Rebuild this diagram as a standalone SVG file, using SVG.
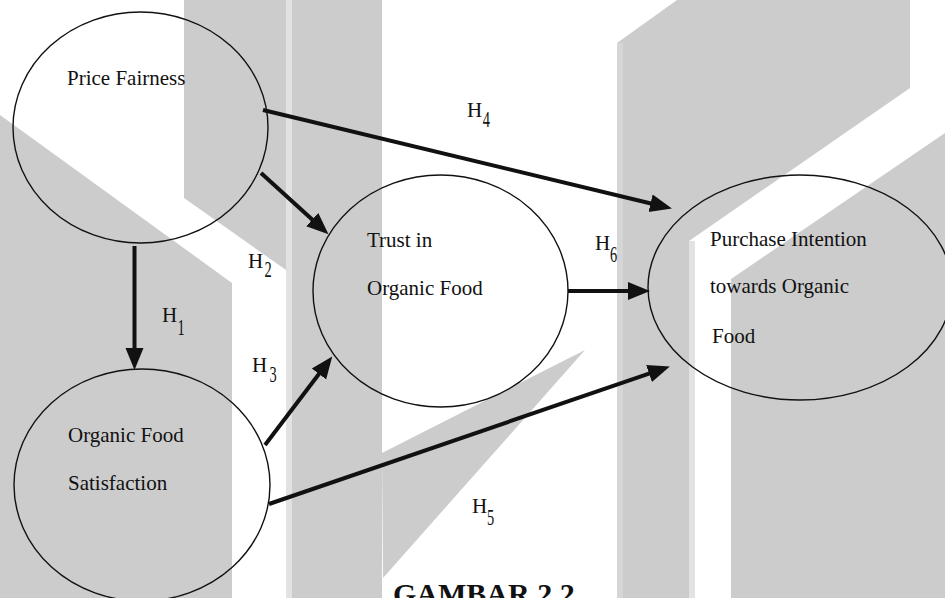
<svg xmlns="http://www.w3.org/2000/svg" width="945" height="598" viewBox="0 0 945 598">
<style>
.bg{fill:#cccccc}
.st{fill:#e2e2e2}
.node{fill:none;stroke:#111;stroke-width:1.4}
.lbl{font-family:"Liberation Serif","Times New Roman",serif;font-size:21px;fill:#111}
.sub{font-family:"Liberation Serif","Times New Roman",serif;font-size:24px;fill:#111}
.edge{stroke:#111;stroke-width:4;fill:none;marker-end:url(#ah)}
.title{font-family:"Liberation Serif","Times New Roman",serif;font-size:30px;font-weight:bold;fill:#111}
</style>
<defs>
<marker id="ah" markerUnits="userSpaceOnUse" markerWidth="22" markerHeight="20" refX="10" refY="10" orient="auto">
<path d="M0,1 L22,10 L0,19 z" fill="#111"/>
</marker>
</defs>
<rect x="0" y="0" width="945" height="598" fill="#ffffff"/>
<g id="watermark">
<polygon class="bg" points="184,0 286,0 286,270 184,198"/>
<polygon class="bg" points="0,115 232,283 232,598 0,598"/>
<rect class="st" x="286" y="0" width="6" height="598"/>
<rect class="bg" x="292" y="0" width="90" height="598"/>
<polygon class="bg" points="382,453 585,350 383,578"/>
<polygon class="bg" points="617,43 677,0 910,0 910,88 689,241 689,598 617,598"/>
<rect x="617" y="43" width="6" height="555" fill="#d6d6d6"/>
<rect class="st" x="689" y="241" width="6" height="357"/>
<polygon class="bg" points="945,133 731,279 731,598 945,598"/>
</g>
<g id="connectors">
<line class="edge" x1="263" y1="110" x2="660.3" y2="205.7"/>
<line class="edge" x1="261" y1="173" x2="319.6" y2="226.3"/>
<line class="edge" x1="134.5" y1="246" x2="134.5" y2="358"/>
<line class="edge" x1="265" y1="445" x2="325" y2="366"/>
<line class="edge" x1="269" y1="504" x2="658.5" y2="370.3"/>
<line class="edge" x1="568" y1="291" x2="638" y2="291"/>
<text class="lbl" x="467" y="117">H</text><text class="sub" transform="translate(482.7,127) scale(0.6,1)">4</text>
<text class="lbl" x="248" y="268">H</text><text class="sub" transform="translate(264.5,277) scale(0.6,1)">2</text>
<text class="lbl" x="162" y="322">H</text><text class="sub" transform="translate(177.5,335) scale(0.6,1)">1</text>
<text class="lbl" x="252" y="372">H</text><text class="sub" transform="translate(269.5,382) scale(0.6,1)">3</text>
<text class="lbl" x="595" y="250">H</text><text class="sub" transform="translate(610,262) scale(0.6,1)">6</text>
<text class="lbl" x="472" y="513">H</text><text class="sub" transform="translate(487,525) scale(0.6,1)">5</text>
</g>
<g id="price-fairness">
<ellipse class="node" cx="140.5" cy="127.5" rx="127.5" ry="115.5"/>
<text class="lbl" x="67" y="85">Price Fairness</text>
</g>
<g id="trust">
<ellipse class="node" cx="440.5" cy="291" rx="127.5" ry="116"/>
<text class="lbl" x="367" y="247">Trust in</text>
<text class="lbl" x="367" y="295">Organic Food</text>
</g>
<g id="purchase-intention">
<ellipse class="node" cx="800" cy="287.5" rx="152" ry="112.5"/>
<text class="lbl" x="710" y="246">Purchase Intention</text>
<text class="lbl" x="710" y="293">towards Organic</text>
<text class="lbl" x="712" y="343">Food</text>
</g>
<g id="satisfaction">
<ellipse class="node" cx="142" cy="485" rx="128" ry="116"/>
<text class="lbl" x="68" y="442">Organic Food</text>
<text class="lbl" x="68" y="490">Satisfaction</text>
</g>
<text class="title" x="393" y="604">GAMBAR 2.2</text>
</svg>
